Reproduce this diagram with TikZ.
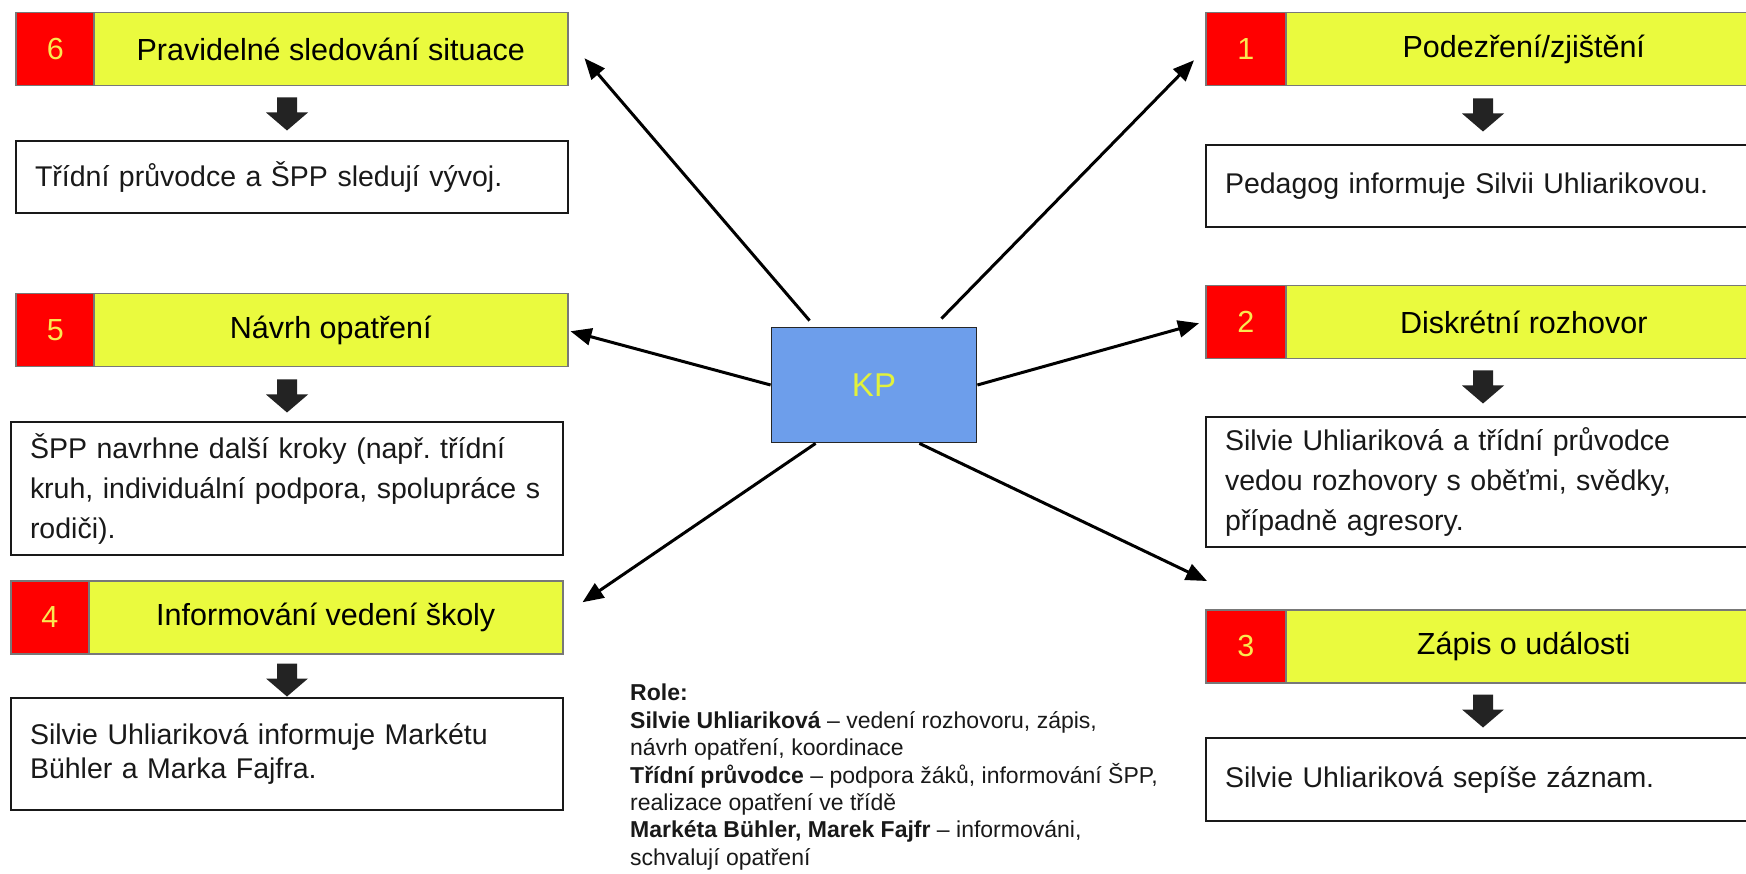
\documentclass[tikz,border=0pt]{standalone}
\usepackage{fontspec}
\setmainfont{Liberation Sans}
\frenchspacing
\usetikzlibrary{arrows.meta,calc}
\definecolor{hred}{RGB}{255,0,0}
\definecolor{hyel}{RGB}{234,250,62}
\definecolor{numyel}{RGB}{250,232,80}
\definecolor{kpblue}{RGB}{109,158,235}
\definecolor{kptext}{RGB}{226,242,60}
\definecolor{hborder}{RGB}{120,120,120}
\definecolor{darkfill}{RGB}{35,35,35}
\tikzset{
 numbox/.style={draw=hborder, line width=1.5pt, fill=hred, text=numyel, minimum width=79pt, minimum height=73pt, anchor=north west, inner sep=0pt, font=\fontsize{30.5}{36}\selectfont},
 titlebox/.style={draw=hborder, line width=1.5pt, fill=hyel, text=black, minimum height=73pt, anchor=north west, inner sep=0pt, font=\fontsize{30.5}{36}\selectfont},
 infobox/.style={draw=black!90, line width=2pt, fill=white, anchor=north west, inner xsep=19pt, inner ysep=0pt, align=left, text=black!90, font=\fontsize{28.5}{40}\selectfont},
 kpbox/.style={draw=black!85, line width=1.8pt, fill=kpblue, text=kptext, minimum width=205pt, minimum height=115pt, inner sep=0pt, font=\fontsize{33}{38}\selectfont},
 rolestext/.style={anchor=north west, inner sep=0pt, align=left, text=black!90, font=\fontsize{23}{27.4}\selectfont},
 link/.style={line width=3pt, draw=black, -{Triangle[length=21pt,width=17pt]}},
 darr/.pic={\fill[darkfill] (-10,0) -- (10,0) -- (10,15) -- (21,15) -- (0,33) -- (-21,15) -- (-10,15) -- cycle;}
}
\begin{document}
\begin{tikzpicture}[x=1pt,y=-1pt]
\useasboundingbox (0,0) rectangle (1746,874);
\clip (0,0) rectangle (1746,874);
\fill[white] (0,0) rectangle (1746,874);

% left column
\node[numbox] (n6) at (15,12) {6};
\node[titlebox, minimum width=474pt] (t6) at (93,12) {Pravidelné sledování situace};
\node[infobox, text width=514pt, minimum height=72pt] (w6) at (15,140) {Třídní průvodce a ŠPP sledují vývoj.};
\pic at ($(n6.south west)+(272,11)$) {darr};

\node[numbox] (n5) at (15,293) {5};
\node[titlebox, minimum width=474pt] (t5) at (93,293) {Návrh opatření};
\node[infobox, text width=514pt, minimum height=133pt] (w5) at (10,421) {ŠPP navrhne další kroky (např. třídní\\ \mbox{kruh, individuální podpora, spolupráce s}\\ rodiči).};
\pic at ($(n5.south west)+(272,12)$) {darr};

\node[numbox, minimum width=78pt] (n4) at (10,580) {4};
\node[titlebox, minimum width=474pt] (t4) at (88,580) {Informování vedení školy};
\node[infobox, text width=514pt, minimum height=112pt, font=\fontsize{28.5}{34}\selectfont] (w4) at (10,697) {Silvie Uhliariková informuje Markétu\\ Bühler a Marka Fajfra.};
\pic at ($(n4.south west)+(277,9)$) {darr};

% right column
\node[numbox, minimum width=80pt] (n1) at (1205,12) {1};
\node[titlebox, minimum width=476pt] (t1) at (1285,12) {Podezření/zjištění};
\node[infobox, text width=517pt, minimum height=82pt] (w1) at (1205,144) {Pedagog informuje Silvii Uhliarikovou.};
\pic at ($(n1.south west)+(278,12)$) {darr};

\node[numbox, minimum width=80pt] (n2) at (1205,285) {2};
\node[titlebox, minimum width=476pt] (t2) at (1285,285) {Diskrétní rozhovor};
\node[infobox, text width=517pt, minimum height=130pt] (w2) at (1205,416) {Silvie Uhliariková a třídní průvodce\\ vedou rozhovory s oběťmi, svědky,\\ případně agresory.};
\pic at ($(n2.south west)+(278,11)$) {darr};

\node[numbox, minimum width=80pt] (n3) at (1205,609) {3};
\node[titlebox, minimum width=476pt] (t3) at (1285,609) {Zápis o události};
\node[infobox, text width=517pt, minimum height=83pt] (w3) at (1205,737) {Silvie Uhliariková sepíše záznam.};
\pic at ($(n3.south west)+(278,11)$) {darr};

% centre
\node[kpbox] (kp) at (874,385) {KP};

\draw[link] ($(kp.north west)+(39,-6)$) -- ($(t6.east)+(16,9)$);
\draw[link] ($(kp.north east)+(-36,-8)$) -- ($(n1.west)+(-11,11)$);
\draw[link] (kp.west) -- ($(t5.east)+(2,1)$);
\draw[link] (kp.east) -- ($(n2.west)+(-6,1)$);
\draw[link] ($(kp.south west)+(45,0)$) -- ($(t4.east)+(19,-15)$);
\draw[link] ($(kp.south east)+(-58,0)$) -- ($(n3.north west)+(2,-28)$);

% roles
\node[rolestext] (roles) at (630,684) {\textbf{Role:}\\
\textbf{Silvie Uhliariková} – vedení rozhovoru, zápis,\\
návrh opatření, koordinace\\
\textbf{Třídní průvodce} – podpora žáků, informování ŠPP,\\
realizace opatření ve třídě\\
\textbf{Markéta Bühler, Marek Fajfr} – informováni,\\
schvalují opatření};
\end{tikzpicture}
\end{document}
